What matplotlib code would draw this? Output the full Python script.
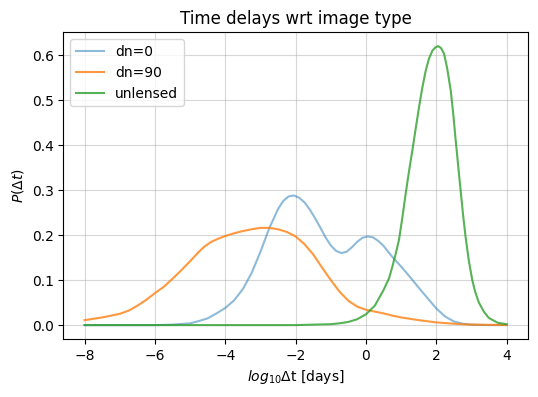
import matplotlib
matplotlib.use('Agg')
import matplotlib.pyplot as plt

# dn=0 curve
x_dn0 = [-8.0, -6.0, -5.5, -5.0, -4.75, -4.5, -4.25, -4.0, -3.75, -3.5, -3.25, -3.0,
         -2.75, -2.5, -2.35, -2.2, -2.05, -1.9, -1.75, -1.6, -1.45, -1.3, -1.15, -1.0,
         -0.85, -0.7, -0.55, -0.4, -0.25, -0.1, 0.05, 0.2, 0.35, 0.5, 0.65, 0.8, 1.0,
         1.25, 1.5, 1.75, 2.0, 2.25, 2.5, 2.75, 3.0, 3.5, 4.0]
p_dn0 = [0.0, 0.0, 0.001, 0.004, 0.009, 0.015, 0.026, 0.038, 0.055, 0.080, 0.116, 0.163,
         0.215, 0.258, 0.276, 0.286, 0.288, 0.283, 0.273, 0.257, 0.238, 0.217, 0.195, 0.177,
         0.165, 0.160, 0.163, 0.173, 0.185, 0.194, 0.197, 0.195, 0.187, 0.176, 0.161, 0.147,
         0.130, 0.107, 0.083, 0.060, 0.037, 0.019, 0.008, 0.003, 0.001, 0.0, 0.0]

# dn=90 curve
x_dn90 = [-8.0, -7.5, -7.0, -6.75, -6.5, -6.25, -6.0, -5.75, -5.5, -5.25, -5.0, -4.75,
          -4.6, -4.4, -4.2, -4.0, -3.75, -3.5, -3.25, -3.0, -2.75, -2.5, -2.25, -2.0, -1.75,
          -1.5, -1.25, -1.0, -0.75, -0.5, -0.25, 0.0, 0.25, 0.5, 0.75, 1.0, 1.5, 2.0,
          2.5, 3.0, 3.5, 4.0]
p_dn90 = [0.011, 0.017, 0.025, 0.032, 0.043, 0.056, 0.071, 0.085, 0.103, 0.122, 0.142, 0.163,
          0.174, 0.185, 0.192, 0.198, 0.204, 0.209, 0.213, 0.216, 0.216, 0.213, 0.207, 0.197,
          0.180, 0.157, 0.128, 0.100, 0.074, 0.054, 0.041, 0.034, 0.030, 0.026, 0.021, 0.017,
          0.011, 0.006, 0.003, 0.001, 0.0005, 0.0003]

# unlensed curve
x_unl = [-8.0, -2.0, -1.5, -1.0, -0.75, -0.5, -0.25, 0.0, 0.25, 0.5, 0.66, 0.75, 0.85,
         0.94, 1.04, 1.13, 1.22, 1.32, 1.42, 1.51, 1.6, 1.7, 1.79, 1.89, 1.97, 2.05,
         2.13, 2.22, 2.31, 2.41, 2.48, 2.55, 2.62, 2.69, 2.76, 2.83, 2.92, 3.02, 3.1,
         3.21, 3.35, 3.49, 3.75, 4.0]
p_unl = [0.0, 0.0, 0.001, 0.002, 0.004, 0.007, 0.013, 0.024, 0.043, 0.078, 0.105, 0.130,
         0.160, 0.190, 0.242, 0.293, 0.340, 0.389, 0.440, 0.485, 0.527, 0.566, 0.592, 0.610,
         0.617, 0.620, 0.616, 0.603, 0.570, 0.521, 0.470, 0.411, 0.355, 0.300, 0.245, 0.197,
         0.145, 0.101, 0.075, 0.050, 0.030, 0.016, 0.005, 0.002]

fig, ax = plt.subplots(figsize=(5.38, 3.97), dpi=100)
fig.subplots_adjust(left=0.118, right=0.981, bottom=0.146, top=0.919)

ax.plot(x_dn0, p_dn0, color='tab:blue', alpha=0.5, label='dn=0')
ax.plot(x_dn90, p_dn90, color='tab:orange', alpha=0.8, label='dn=90')
ax.plot(x_unl, p_unl, color='tab:green', alpha=0.8, label='unlensed')

ax.set_title('Time delays wrt image type')
ax.set_xlabel(r'$log_{10}\Delta$t [days]')
ax.set_ylabel(r'$P(\Delta t)$')
ax.grid(alpha=0.5)
ax.legend(loc='upper left')

fig.savefig('out.png')
